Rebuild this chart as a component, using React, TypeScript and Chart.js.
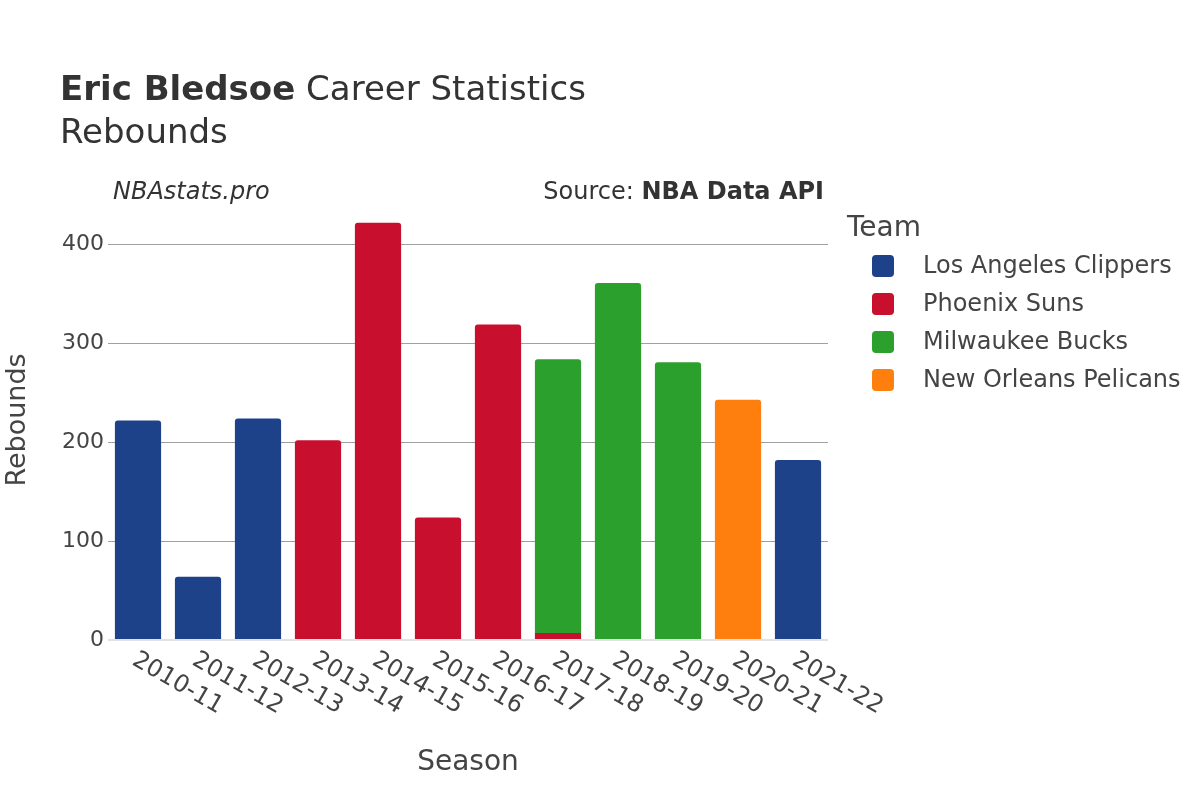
import React, { useEffect, useRef } from "react";
import { Chart, registerables } from "chart.js";

Chart.register(...registerables);

const seasons = ["2010-11", "2011-12", "2012-13", "2013-14", "2014-15", "2015-16", "2016-17", "2017-18", "2018-19", "2019-20", "2020-21", "2021-22"];
const teams = ["Los Angeles Clippers", "Phoenix Suns", "Milwaukee Bucks", "New Orleans Pelicans"];
const teamColors = ["#1d428a", "#c8102e", "#2ca02c", "#ff7f0e"];
const clippers = [222, 64, 224, null, null, null, null, null, null, null, null, 182];
const suns = [null, null, null, 202, 422, 124, 319, 7, null, null, null, null];
const bucks = [null, null, null, null, null, null, null, 277, 361, 281, null, null];
const pelicans = [null, null, null, null, null, null, null, null, null, null, 243, null];
const yTicks = [0, 100, 200, 300, 400];

const FONT = "'DejaVu Sans', sans-serif";

const textPlugin = {
  id: "textPlugin",
  afterDraw(chart: any) {
    const ctx = chart.ctx;
    const xs = chart.scales.x;
    ctx.save();
    ctx.fillStyle = "#333";
    ctx.textBaseline = "alphabetic";
    ctx.textAlign = "left";
    // title
    ctx.font = `bold 34px ${FONT}`;
    const b = "Eric Bledsoe";
    ctx.fillText(b, 60, 100);
    const bw = ctx.measureText(b).width;
    ctx.font = `34px ${FONT}`;
    ctx.fillText(" Career Statistics", 60 + bw, 100);
    ctx.fillText("Rebounds", 60, 143);
    // subtitle
    ctx.font = `italic 24px ${FONT}`;
    ctx.fillText("NBAstats.pro", 113, 199);
    ctx.textAlign = "right";
    ctx.font = `bold 24px ${FONT}`;
    const api = "NBA Data API";
    ctx.fillText(api, 824, 199);
    const aw = ctx.measureText(api).width;
    ctx.font = `24px ${FONT}`;
    ctx.fillText("Source: ", 824 - aw, 199);
    // legend
    ctx.textAlign = "left";
    ctx.fillStyle = "#444";
    ctx.font = `28px ${FONT}`;
    ctx.fillText("Team", 847, 236);
    ctx.font = `24px ${FONT}`;
    teams.forEach((t, i) => {
      const cy = 266 + i * 38;
      ctx.fillStyle = teamColors[i];
      ctx.beginPath();
      (ctx as any).roundRect(872, cy - 11, 22, 22, 4);
      ctx.fill();
      ctx.fillStyle = "#444";
      ctx.textBaseline = "middle";
      ctx.fillText(t, 923, cy + 1);
    });
    // x tick labels
    ctx.font = `24px ${FONT}`;
    ctx.fillStyle = "#444";
    ctx.textBaseline = "top";
    ctx.textAlign = "left";
    seasons.forEach((s, i) => {
      const x = xs.getPixelForValue(i);
      ctx.save();
      ctx.translate(x + 2, 648);
      ctx.rotate(Math.PI / 6);
      ctx.fillText(s, 0, 0);
      ctx.restore();
    });
    // axis titles
    ctx.textAlign = "center";
    ctx.textBaseline = "alphabetic";
    ctx.font = `28px ${FONT}`;
    ctx.fillText("Season", 468, 770);
    ctx.font = `27px ${FONT}`;
    ctx.save();
    ctx.translate(25, 420);
    ctx.rotate(-Math.PI / 2);
    ctx.fillText("Rebounds", 0, 0);
    ctx.restore();
    ctx.restore();
  },
};

export default function App() {
  const ref = useRef<HTMLCanvasElement>(null);
  useEffect(() => {
    const series = [clippers, suns, bucks, pelicans];
    const chart = new Chart(ref.current as HTMLCanvasElement, {
      type: "bar",
      data: {
        labels: seasons,
        datasets: teams.map((t, i) => ({
          label: t,
          data: series[i] as any,
          backgroundColor: teamColors[i],
          borderRadius: 3,
          borderSkipped: "start",
          barPercentage: 0.77,
          categoryPercentage: 1,
        })),
      },
      options: {
        responsive: false,
        animation: false,
        layout: { padding: { top: 200, right: 372, bottom: 0, left: 0 } },
        plugins: { legend: { display: false }, tooltip: { enabled: false }, title: { display: false } },
        scales: {
          x: {
            stacked: true,
            grid: { display: false },
            border: { display: false },
            ticks: { display: false },
            afterFit: (s: any) => { s.height = 160; },
          },
          y: {
            stacked: true,
            min: 0,
            max: 445,
            afterBuildTicks: (s: any) => { s.ticks = yTicks.map((v) => ({ value: v })); },
            grid: {
              drawTicks: false,
              color: (c: any) => (c.tick && c.tick.value === 0 ? "#e2e2e2" : "#a0a0a0"),
              lineWidth: (c: any) => (c.tick && c.tick.value === 0 ? 2 : 1),
            },
            border: { display: false },
            ticks: { color: "#444", font: { family: FONT, size: 22 }, padding: 4 },
            afterFit: (s: any) => { s.width = 108; },
          },
        },
      },
      plugins: [textPlugin],
    });
    return () => chart.destroy();
  }, []);
  return (
    <div style={{ position: "fixed", left: 0, top: 0, width: 1200, height: 800, background: "#fff" }}>
      <canvas ref={ref} width={1200} height={800} style={{ width: 1200, height: 800 }} />
    </div>
  );
}
